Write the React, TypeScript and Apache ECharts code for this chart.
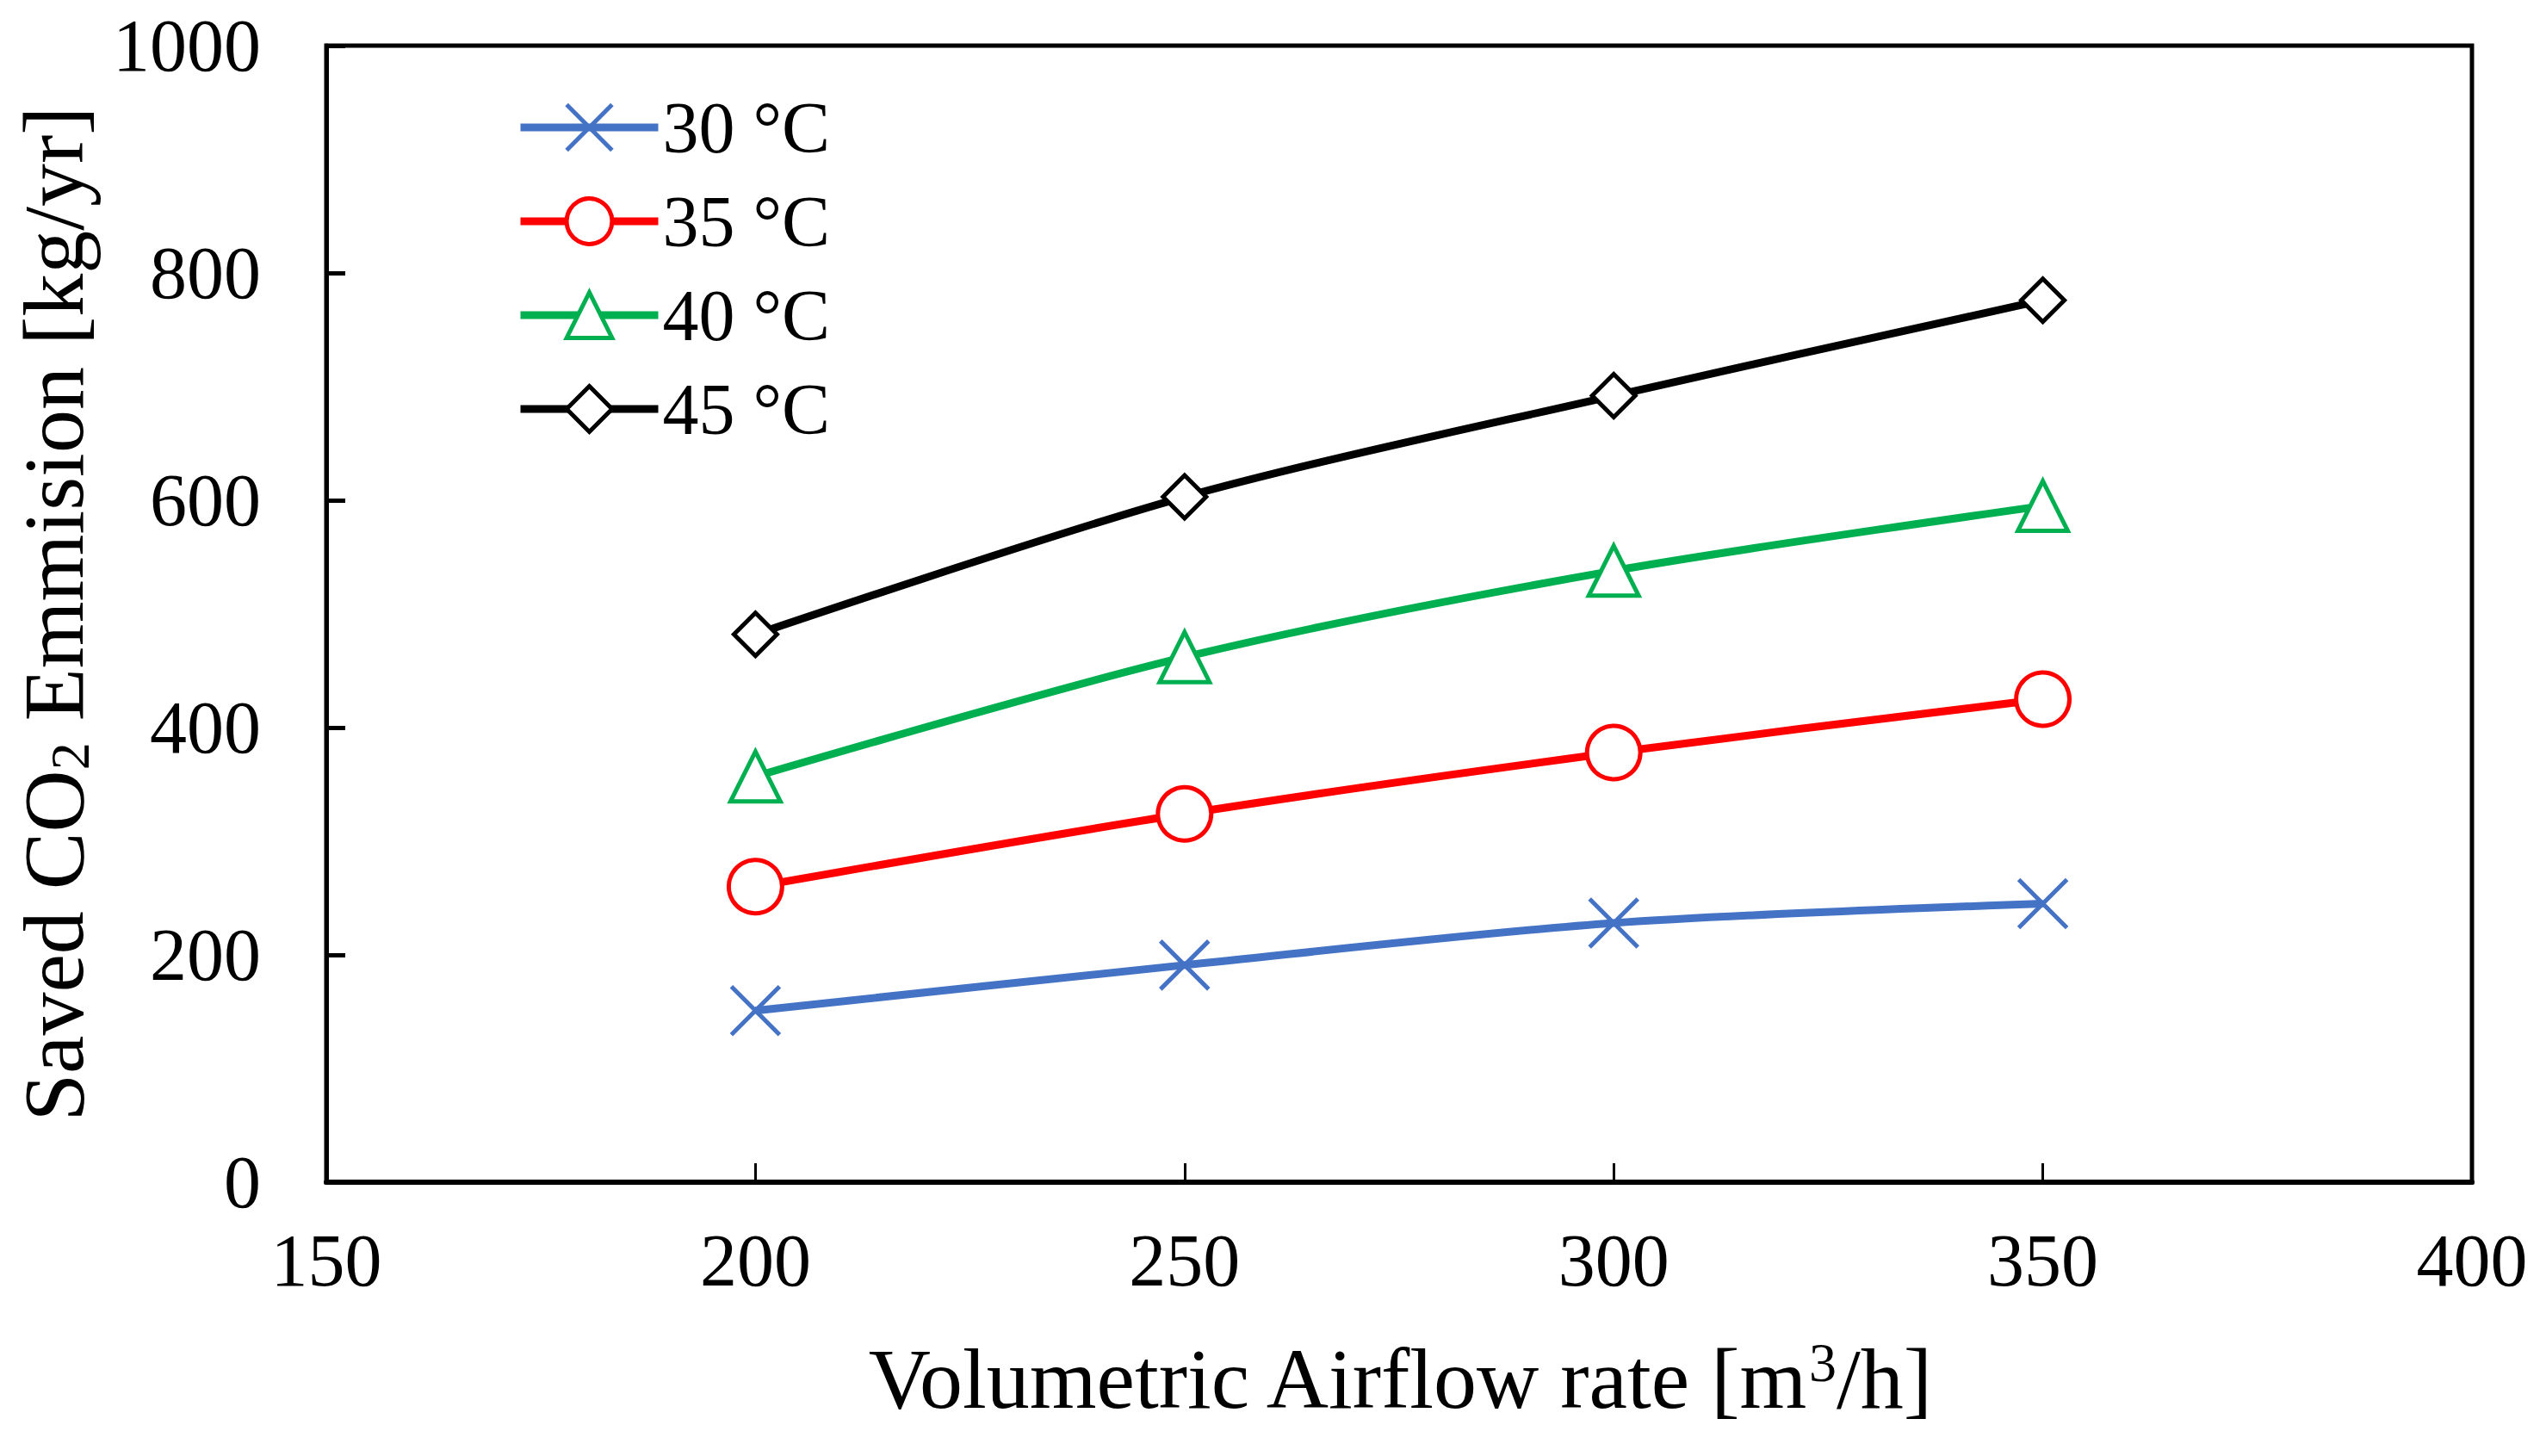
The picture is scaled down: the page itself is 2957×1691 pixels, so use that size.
import React, { useEffect, useRef } from 'react';
import * as echarts from 'echarts';

const airflow = [200, 250, 300, 350];
const saved30 = [151, 191, 228, 245];
const saved35 = [260, 324, 378, 425];
const saved40 = [357, 462, 538, 595];
const saved45 = [482, 603, 692, 776];
const seriesNames = ['30 °C', '35 °C', '40 °C', '45 °C'];

const FONT = '"Liberation Serif", "Times New Roman", serif';

const crossPath = 'path://M0,0 L10,10 M10,0 L0,10';
const diamondPath = 'path://M5,0 L10,5 L5,10 L0,5 Z';

const App: React.FC = () => {
  const chartRef = useRef<HTMLDivElement | null>(null);

  useEffect(() => {
    const chart = echarts.init(chartRef.current!, undefined, { renderer: 'svg' });

    const mk = (name: string, values: number[], color: string, symbol: string, size: number) => ({
      name,
      type: 'line',
      data: airflow.map((x, i) => [x, values[i]]),
      smooth: 0.3,
      symbol,
      symbolSize: size,
      showAllSymbol: true,
      lineStyle: { color, width: 9 },
      itemStyle: { color: '#ffffff', borderColor: color, borderWidth: 5 },
      emphasis: { disabled: true },
    });

    const option = {
      animation: false,
      backgroundColor: '#ffffff',
      grid: {
        left: 379,
        right: 86,
        top: 53,
        bottom: 318,
        outerBoundsMode: 'none',
        containLabel: false,
        show: true,
        borderColor: '#000000',
        borderWidth: 5,
      },
      legend: {
        orient: 'vertical',
        left: 595,
        top: 101,
        itemWidth: 160,
        itemHeight: 66,
        itemGap: 25,
        data: seriesNames,
        lineStyle: { width: 9 },
        itemStyle: { borderWidth: 5 },
        textStyle: { fontFamily: FONT, fontSize: 84, lineHeight: 66, color: '#000000' },
      },
      xAxis: {
        type: 'value',
        min: 150,
        max: 400,
        interval: 50,
        name: '{t|Volumetric Airflow rate [m}{u|3}{t|/h]}',
        nameLocation: 'middle',
        nameGap: 177,
        nameTextStyle: {
          rich: {
            t: { fontFamily: FONT, fontSize: 100, color: '#000000' },
            u: { fontFamily: FONT, fontSize: 64, color: '#000000', verticalAlign: 'top', padding: [0, 0, 38, 0] },
          },
        },
        axisLine: { lineStyle: { color: '#000000', width: 6 } },
        axisTick: { inside: true, length: 22, lineStyle: { color: '#000000', width: 3 } },
        axisLabel: { fontFamily: FONT, fontSize: 86, color: '#000000', margin: 48 },
        splitLine: { show: false },
      },
      yAxis: {
        type: 'value',
        min: 0,
        max: 1000,
        interval: 200,
        name: '{t|Saved CO}{s|2}{t| Emmision [kg/yr]}',
        nameLocation: 'middle',
        nameGap: 266,
        nameRotate: 90,
        nameTextStyle: {
          rich: {
            t: { fontFamily: FONT, fontSize: 100, color: '#000000' },
            s: { fontFamily: FONT, fontSize: 64, color: '#000000', verticalAlign: 'bottom', padding: [38, 0, 0, 0] },
          },
        },
        axisLine: { show: true, lineStyle: { color: '#000000', width: 5 } },
        axisTick: { show: true, inside: true, length: 22, lineStyle: { color: '#000000', width: 5 } },
        axisLabel: {
          fontFamily: FONT,
          fontSize: 86,
          color: '#000000',
          margin: 76,
          formatter: (v: number) => String(v),
        },
        splitLine: { show: false },
      },
      series: [
        mk(seriesNames[0], saved30, '#4472C4', crossPath, 56),
        mk(seriesNames[1], saved35, '#FF0000', 'circle', 62),
        mk(seriesNames[2], saved40, '#00B050', 'triangle', 58),
        mk(seriesNames[3], saved45, '#000000', diamondPath, 50),
      ],
    };

    chart.setOption(option);

    return () => {
      chart.dispose();
    };
  }, []);

  return (
    <div
      ref={chartRef}
      style={{ position: 'fixed', left: 0, top: 0, width: '2957px', height: '1691px', background: '#fff' }}
    />
  );
};

export default App;
